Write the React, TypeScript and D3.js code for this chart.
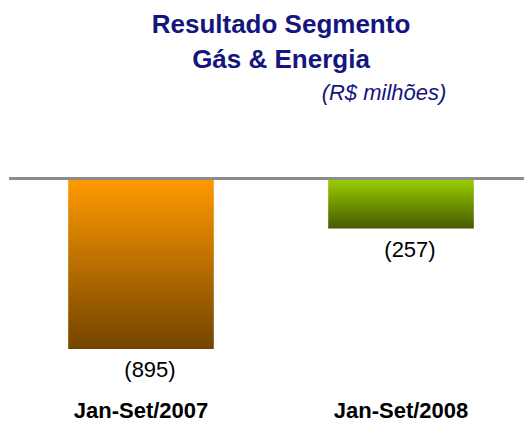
import * as d3 from 'd3';
import React, { useEffect, useRef } from 'react';

const categories = ['Jan-Set/2007', 'Jan-Set/2008'];
const values = [-895, -257];
const valueLabels = ['(895)', '(257)'];
const titleLines = ['Resultado Segmento', 'Gás & Energia'];
const unitLabel = '(R$ milhões)';

const gradients = [
  { id: 'gOrange', top: '#FF9900', bottom: '#744400' },
  { id: 'gGreen', top: '#99CC00', bottom: '#465A00' },
];

const App = () => {
  const ref = useRef<SVGSVGElement>(null);

  useEffect(() => {
    const svg = d3.select(ref.current);
    svg.selectAll('*').remove();
    const width = 524, height = 424;
    svg.attr('width', width).attr('height', height);

    const defs = svg.append('defs');
    gradients.forEach(g => {
      const lg = defs.append('linearGradient')
        .attr('id', g.id)
        .attr('x1', 0).attr('y1', 0).attr('x2', 0).attr('y2', 1);
      lg.append('stop').attr('offset', '0%').attr('stop-color', g.top);
      lg.append('stop').attr('offset', '100%').attr('stop-color', g.bottom);
    });

    const font = 'Liberation Sans, Arial, sans-serif';

    // title
    const title = svg.append('g').attr('fill', '#15157f').attr('font-family', font);
    title.selectAll('text.t')
      .data(titleLines)
      .join('text')
      .attr('class', 't')
      .attr('x', 281)
      .attr('y', (d, i) => 33 + i * 35)
      .attr('text-anchor', 'middle')
      .attr('font-size', 26)
      .attr('font-weight', 'bold')
      .text(d => d);
    title.append('text')
      .attr('x', 384)
      .attr('y', 100)
      .attr('text-anchor', 'middle')
      .attr('font-size', 22)
      .attr('font-style', 'italic')
      .text(unitLabel);

    const x = d3.scaleBand()
      .domain(categories)
      .range([11, 531])
      .paddingInner(0.44)
      .paddingOuter(0.22);

    const y = d3.scaleLinear()
      .domain([0, -895])
      .range([180, 349]);

    // bars
    svg.selectAll('rect.bar')
      .data(values)
      .join('rect')
      .attr('class', 'bar')
      .attr('x', (d, i) => x(categories[i]))
      .attr('y', y(0))
      .attr('width', x.bandwidth())
      .attr('height', d => y(d) - y(0))
      .attr('fill', (d, i) => `url(#${gradients[i].id})`);

    // zero line
    svg.append('line')
      .attr('x1', 9).attr('x2', width)
      .attr('y1', y(0) - 1.5).attr('y2', y(0) - 1.5)
      .attr('stroke', '#8c8c8c')
      .attr('stroke-width', 3);

    // value labels
    svg.selectAll('text.val')
      .data(values)
      .join('text')
      .attr('class', 'val')
      .attr('x', (d, i) => x(categories[i]) + x.bandwidth() / 2 + 9)
      .attr('y', d => y(d) + 28)
      .attr('text-anchor', 'middle')
      .attr('font-family', font)
      .attr('font-size', 22)
      .attr('fill', '#000')
      .text((d, i) => valueLabels[i]);

    // category labels
    svg.selectAll('text.cat')
      .data(categories)
      .join('text')
      .attr('class', 'cat')
      .attr('x', d => x(d) + x.bandwidth() / 2)
      .attr('y', 418)
      .attr('text-anchor', 'middle')
      .attr('font-family', font)
      .attr('font-size', 22)
      .attr('font-weight', 'bold')
      .attr('fill', '#000')
      .text(d => d);
  }, []);

  return (
    <div style={{ position: 'absolute', left: 0, top: 0 }}>
      <svg ref={ref}></svg>
    </div>
  );
};

export default App;
